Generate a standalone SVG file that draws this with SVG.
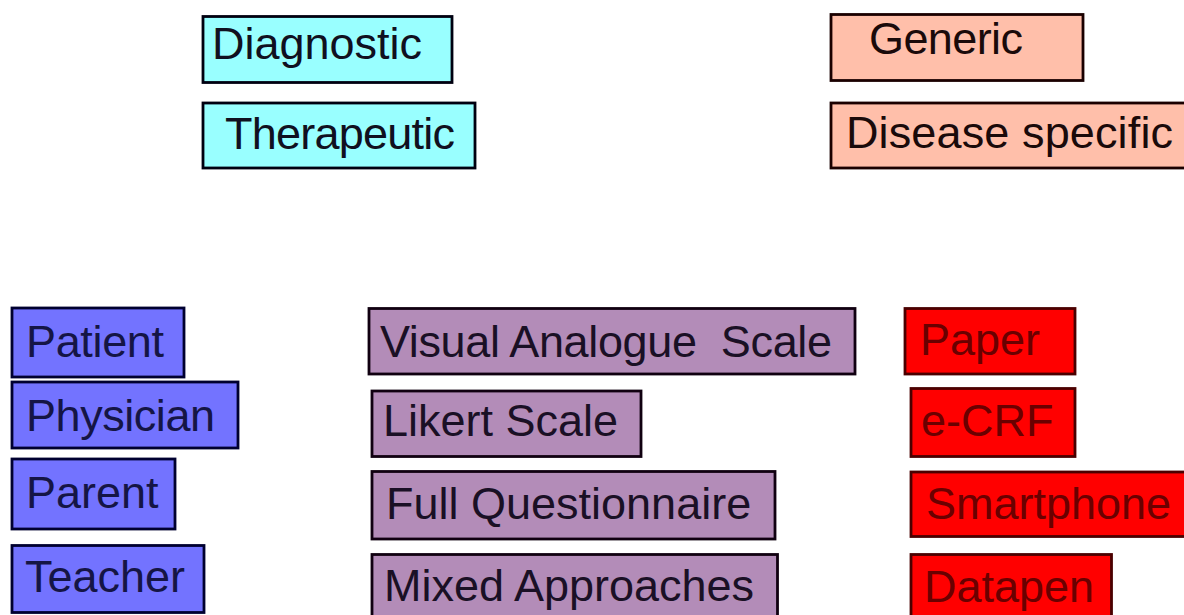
<svg xmlns="http://www.w3.org/2000/svg" width="1184" height="615" viewBox="0 0 1184 615">
<style>
  rect { stroke-width: 2.8; }
  text { font-family: "Liberation Sans", Arial, sans-serif; font-size: 45px; white-space: pre; }
  .cyan rect { fill: #99ffff; stroke: #000010; }
  .cyan text { fill: #101020; }
  .salmon rect { fill: #ffbfaa; stroke: #1a0000; }
  .salmon text { fill: #1a0a0a; }
  .blue rect { fill: #7373ff; stroke: #000030; }
  .blue text { fill: #151545; }
  .purple rect { fill: #b38cb8; stroke: #100010; }
  .purple text { fill: #1a1025; }
  .red rect { fill: #ff0000; stroke: #4a0000; }
  .red text { fill: #6a0000; }
</style>
<rect width="1184" height="615" fill="#ffffff"/>
<g id="diagnostic" class="cyan"><rect x="203" y="16.5" width="249" height="66"/><text x="212" y="59">Diagnostic</text></g>
<g id="therapeutic" class="cyan"><rect x="203" y="103" width="272" height="65"/><text x="225" y="149" textLength="230">Therapeutic</text></g>
<g id="generic" class="salmon"><rect x="831" y="14.5" width="252" height="66"/><text x="869" y="54" textLength="154">Generic</text></g>
<g id="disease-specific" class="salmon"><rect x="831" y="103" width="360" height="65"/><text x="846" y="148" textLength="327">Disease specific</text></g>
<g id="patient" class="blue"><rect x="12" y="308" width="172" height="69"/><text x="26" y="357" textLength="138">Patient</text></g>
<g id="physician" class="blue"><rect x="12" y="382" width="226" height="66"/><text x="26" y="431" textLength="189">Physician</text></g>
<g id="parent" class="blue"><rect x="12" y="459" width="163" height="70"/><text x="26" y="508">Parent</text></g>
<g id="teacher" class="blue"><rect x="12" y="545.5" width="192" height="67"/><text x="25" y="592">Teacher</text></g>
<g id="vas" class="purple"><rect x="369" y="308.5" width="486" height="65.5"/><text x="380" y="357" textLength="452" xml:space="preserve">Visual Analogue  Scale</text></g>
<g id="likert" class="purple"><rect x="372" y="391" width="269" height="65.5"/><text x="383" y="436">Likert Scale</text></g>
<g id="full-questionnaire" class="purple"><rect x="372" y="471.5" width="403" height="67.5"/><text x="386" y="519">Full Questionnaire</text></g>
<g id="mixed-approaches" class="purple"><rect x="372" y="554.5" width="405.5" height="70"/><text x="384" y="601" textLength="370">Mixed Approaches</text></g>
<g id="paper" class="red"><rect x="905" y="308.5" width="170" height="65.5"/><text x="920" y="355">Paper</text></g>
<g id="ecrf" class="red"><rect x="911" y="388.5" width="164" height="68"/><text x="921" y="436">e-CRF</text></g>
<g id="smartphone" class="red"><rect x="911" y="472" width="290" height="64.5"/><text x="926" y="519">Smartphone</text></g>
<g id="datapen" class="red"><rect x="911" y="554.5" width="200.5" height="70"/><text x="924" y="602">Datapen</text></g>
<g id="connectors"></g>
</svg>
